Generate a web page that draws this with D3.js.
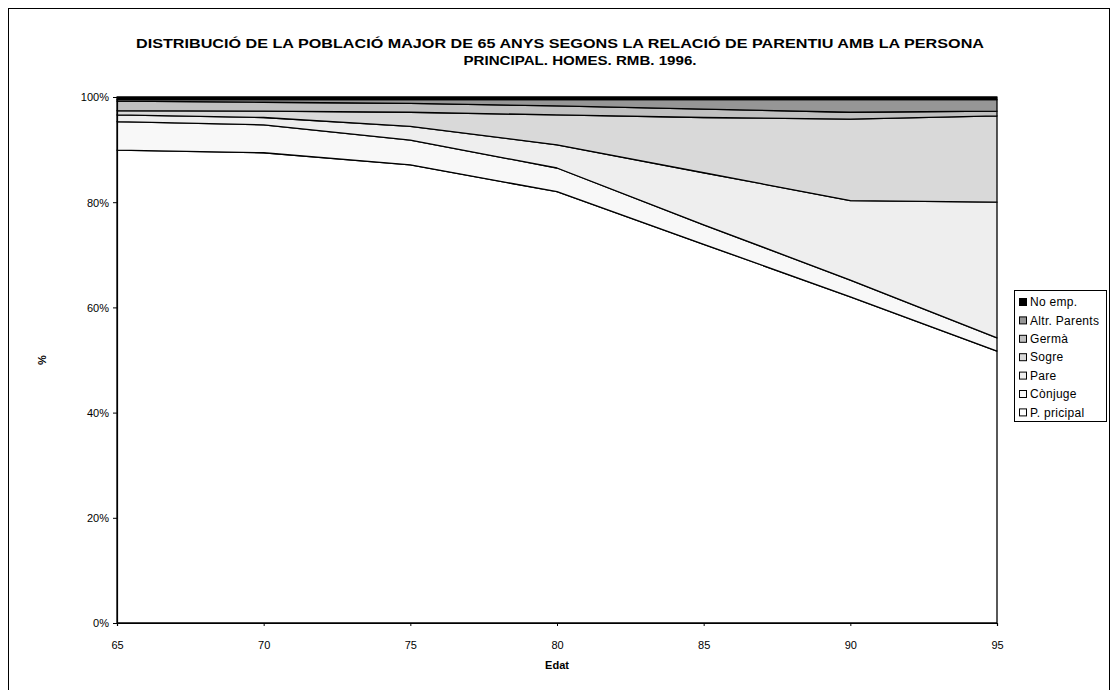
<!DOCTYPE html>
<html><head><meta charset="utf-8">
<script src="https://cdn.jsdelivr.net/npm/d3@7"></script>
<style>body{margin:0;background:#fff}svg{display:block;font-family:"Liberation Sans",Arial,sans-serif}</style>
</head><body><svg id="c" width="1118" height="690"></svg>
<script>
const ages = [65, 70, 75, 80, 85, 90, 95];
const seriesNames = ["P. pricipal", "Cònjuge", "Pare", "Sogre", "Germà", "Altr. Parents", "No emp."];
const pPrincipal  = [89.9, 89.4, 87.1, 82.0, 72.0, 62.0, 51.7];
const conjuge     = [5.4, 5.3, 4.7, 4.5, 3.7, 3.2, 2.5];
const pare        = [1.3, 1.4, 2.6, 4.4, 9.9, 15.1, 25.8];
const sogre       = [0.8, 1.2, 2.7, 5.7, 10.5, 15.5, 16.4];
const germa       = [1.8, 1.7, 1.7, 1.7, 1.6, 1.3, 0.9];
const altrParents = [0.3, 0.5, 0.7, 1.2, 1.8, 2.4, 2.2];
const noEmp       = [0.5, 0.5, 0.5, 0.5, 0.5, 0.5, 0.5];
const yTicks = [0, 0.2, 0.4, 0.6, 0.8, 1];
const colors = ["#ffffff", "#f8f8f8", "#eeeeee", "#d9d9d9", "#c0c0c0", "#969696", "#000000"];
const title1 = "DISTRIBUCIÓ DE LA POBLACIÓ MAJOR DE 65 ANYS SEGONS LA RELACIÓ DE PARENTIU AMB LA PERSONA";
const title2 = "PRINCIPAL. HOMES. RMB. 1996.";

const valuesList = [pPrincipal, conjuge, pare, sogre, germa, altrParents, noEmp];
const table = ages.map((a, i) => {
  const r = {age: a};
  seriesNames.forEach((n, k) => r[n] = valuesList[k][i]);
  return r;
});

const svg = d3.select("#c");
svg.append("rect").attr("x", 8.5).attr("y", 8.5).attr("width", 1101).attr("height", 700)
  .attr("fill", "#fff").attr("stroke", "#000").attr("stroke-width", 1);

const x = d3.scaleLinear().domain([65, 95]).range([117, 997]);
const y = d3.scaleLinear().domain([0, 1]).range([623, 97]);

const stack = d3.stack().keys(seriesNames).offset(d3.stackOffsetExpand);
const layers = stack(table);
const area = d3.area().x(d => x(d.data.age)).y0(d => y(d[0])).y1(d => y(d[1]));

svg.append("g").selectAll("path").data(layers).join("path")
  .attr("d", area)
  .attr("fill", (d, i) => colors[i])
  .attr("stroke", "#000").attr("stroke-width", 1.3).attr("stroke-linejoin", "round");

// axes
const gy = svg.append("g").attr("transform", "translate(117,0)")
  .call(d3.axisLeft(y).tickValues(yTicks).tickFormat(d3.format(".0%")).tickSize(4).tickPadding(4));
const gx = svg.append("g").attr("transform", "translate(0,623)")
  .call(d3.axisBottom(x).tickValues(ages).tickFormat(d3.format("d")).tickSize(3).tickPadding(15));
[gy, gx].forEach(g => {
  g.select(".domain").attr("stroke", "#000").attr("stroke-width", 1.2);
  g.selectAll(".tick line").attr("stroke", "#000");
  g.selectAll("text").attr("font-family", "Liberation Sans, Arial, sans-serif").attr("font-size", 11).attr("fill", "#000");
});
gy.selectAll("text").attr("dy", "0.35em");

// titles
svg.append("text").attr("x", 560).attr("y", 47.5).attr("text-anchor", "middle")
  .attr("font-weight", "bold").attr("font-size", 12).attr("textLength", 848).attr("lengthAdjust", "spacingAndGlyphs")
  .text(title1);
svg.append("text").attr("x", 580).attr("y", 65).attr("text-anchor", "middle")
  .attr("font-weight", "bold").attr("font-size", 12).attr("textLength", 233).attr("lengthAdjust", "spacingAndGlyphs")
  .text(title2);
svg.append("text").attr("x", 557).attr("y", 669).attr("text-anchor", "middle")
  .attr("font-weight", "bold").attr("font-size", 11).text("Edat");
svg.append("text").attr("transform", "translate(46,360) rotate(-90)").attr("text-anchor", "middle")
  .attr("font-weight", "bold").attr("font-size", 11).text("%");

// legend
const lg = svg.append("g");
lg.append("rect").attr("x", 1014.5).attr("y", 290.5).attr("width", 92).attr("height", 131)
  .attr("fill", "#fff").attr("stroke", "#000").attr("stroke-width", 1);
const legendOrder = seriesNames.map((n, i) => ({n, c: colors[i]})).reverse();
const items = lg.selectAll("g.it").data(legendOrder).join("g").attr("class", "it")
  .attr("transform", (d, i) => `translate(1019,${302 + i * 18.4})`);
items.append("rect").attr("x", 0.5).attr("y", -3.5).attr("width", 7).attr("height", 7)
  .attr("fill", d => d.c).attr("stroke", "#000").attr("stroke-width", 1);
items.append("text").attr("x", 11).attr("y", 0).attr("dy", "0.35em").attr("font-size", 12)
  .attr("letter-spacing", 0.3).text(d => d.n);
</script></body></html>
